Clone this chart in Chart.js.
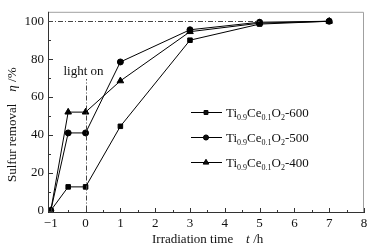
<!DOCTYPE html>
<html><head><meta charset="utf-8">
<script src="https://cdn.jsdelivr.net/npm/chart.js@4/dist/chart.umd.min.js"></script>
<style>html,body{margin:0;padding:0;background:#fff;}#wrap{width:373px;height:251px;}</style>
</head><body><div id="wrap"><canvas id="c" width="373" height="251"></canvas></div>
<script>
const times = [-1, -0.5, 0, 1, 3, 5, 7];
const s600 = [0, 12.5, 12.5, 44.5, 90, 98.5, 100];
const s500 = [0, 41, 41, 78.5, 95.5, 99.5, 100];
const s400 = [0, 52, 52, 68.5, 94.5, 99, 100];
const seriesNames = ['600', '500', '400'];
const xTicks = [-1, 0, 1, 2, 3, 4, 5, 6, 7, 8];
const yTicks = [0, 20, 40, 60, 80, 100];
const FONT = '"Liberation Serif", "Times New Roman", serif';

function pts(v){ return times.map((t,i)=>({x:t,y:v[i]})); }
const styles = ['rect','circle','triangle'];
const radii = [3.2, 3, 3.8];

const overlay = {
  id:'overlay',
  afterDraw(chart){
    const ctx = chart.ctx, xs = chart.scales.x, ys = chart.scales.y, a = chart.chartArea;
    ctx.save();
    // frame
    ctx.strokeStyle = '#a0a0a0'; ctx.lineWidth = 1;
    ctx.beginPath(); ctx.moveTo(a.left, a.top+0.5); ctx.lineTo(a.right-0.5, a.top+0.5); ctx.lineTo(a.right-0.5, a.bottom); ctx.stroke();
    ctx.strokeStyle = '#333';
    ctx.beginPath(); ctx.moveTo(a.left+0.5, a.top); ctx.lineTo(a.left+0.5, a.bottom-0.5); ctx.lineTo(a.right, a.bottom-0.5); ctx.stroke();
    // ticks inward
    ctx.strokeStyle = '#333';
    ctx.beginPath();
    for (let v=-1; v<=8; v+=0.5){
      const px = Math.round(xs.getPixelForValue(v))+0.5;
      const len = Number.isInteger(v) ? 5 : 3;
      ctx.moveTo(px, a.bottom); ctx.lineTo(px, a.bottom-len);
    }
    for (let v=0; v<=100; v+=10){
      const py = Math.round(ys.getPixelForValue(v))+0.5;
      const len = (v%20===0) ? 5 : 3;
      ctx.moveTo(a.left, py); ctx.lineTo(a.left+len, py);
    }
    ctx.stroke();
    // reference lines (dash-dot)
    ctx.setLineDash([5,2,1,2]);
    ctx.strokeStyle = '#444';
    ctx.beginPath();
    const y100 = Math.round(ys.getPixelForValue(100))+0.5;
    ctx.moveTo(a.left, y100); ctx.lineTo(xs.getPixelForValue(5), y100);
    const x0 = Math.round(xs.getPixelForValue(0))+0.5;
    ctx.moveTo(x0, ys.getPixelForValue(0)); ctx.lineTo(x0, ys.getPixelForValue(69.5));
    ctx.stroke();
    ctx.setLineDash([]);
    // light on
    ctx.fillStyle = '#111';
    ctx.font = '13px ' + FONT;
    ctx.textAlign = 'center'; ctx.textBaseline = 'alphabetic';
    ctx.fillText('light on', x0 - 3, ys.getPixelForValue(71.5));
    // axis titles
    ctx.font = '13px ' + FONT;
    ctx.textAlign = 'left';
    ctx.fillText('Irradiation time', 152, 243);
    ctx.font = 'italic 13px ' + FONT;
    ctx.fillText('t', 246, 243);
    ctx.font = '13px ' + FONT;
    ctx.fillText(' /h', 250, 243);
    // y title rotated
    ctx.save();
    ctx.translate(16, 124); ctx.rotate(-Math.PI/2);
    ctx.textAlign = 'left';
    const p1 = 'Sulfur removal', p2 = 'η', p3 = ' /%';
    ctx.font = '13px ' + FONT;
    const w1 = ctx.measureText(p1).width;
    let xs0 = -58;
    ctx.fillText(p1, xs0, 0);
    xs0 += w1 + 12;
    ctx.font = 'italic 13px ' + FONT;
    ctx.fillText(p2, xs0, 0);
    xs0 += ctx.measureText(p2).width;
    ctx.font = '13px ' + FONT;
    ctx.fillText(p3, xs0, 0);
    ctx.restore();
    // legend
    const legY = [112, 137, 162];
    chart.data.datasets.forEach((ds, i) => {
      const y = legY[i] + 0.5;
      ctx.strokeStyle = '#000'; ctx.lineWidth = 1;
      ctx.beginPath(); ctx.moveTo(191, y); ctx.lineTo(222, y); ctx.stroke();
      Chart.helpers.drawPoint(ctx, {pointStyle: styles[i], radius: radii[i]*0.85, borderWidth: 1}, 206, y);
      ctx.fillStyle = '#111';
      let tx = 226;
      const base = y + 4.5;
      const seg = (txt, size, dy) => { ctx.font = size + 'px ' + FONT; ctx.fillText(txt, tx, base + dy); tx += ctx.measureText(txt).width; };
      seg('Ti', 13, 0); seg('0.9', 8, 3); seg('Ce', 13, 0); seg('0.1', 8, 3); seg('O', 13, 0); seg('2', 8, 3); seg('-' + seriesNames[i], 13, 0);
    });
    ctx.restore();
  }
};

const mk = (label, v, i) => ({
  label, data: pts(v), borderColor:'#000', backgroundColor:'#000', borderWidth:1,
  pointStyle: styles[i], pointRadius: radii[i], pointBorderWidth:1, pointBackgroundColor:'#000', pointBorderColor:'#000', tension:0, fill:false
});

new Chart(document.getElementById('c'), {
  type:'line',
  data:{ datasets:[ mk('Ti0.9Ce0.1O2-600', s600, 0), mk('Ti0.9Ce0.1O2-500', s500, 1), mk('Ti0.9Ce0.1O2-400', s400, 2) ] },
  options:{
    responsive:false, animation:false, devicePixelRatio:1,
    layout:{ padding:{ top:6, right:9, left:0, bottom:0 } },
    plugins:{ legend:{display:false}, tooltip:{enabled:false} },
    scales:{
      x:{ type:'linear', min:-1.08, max:8,
        afterBuildTicks(s){ s.ticks = xTicks.map(v=>({value:v})); },
        afterFit(s){ s.height = 38; },
        grid:{ display:false, drawTicks:false }, border:{display:false},
        ticks:{ color:'#111', font:{ family:FONT, size:13 }, padding:3, maxRotation:0, autoSkip:false,
          callback:(v)=> v<0 ? '\u22121' : String(v) } },
      y:{ type:'linear', min:-1.3, max:105,
        afterBuildTicks(s){ s.ticks = yTicks.map(v=>({value:v})); },
        afterFit(s){ s.width = 48; },
        grid:{ display:false, drawTicks:false }, border:{display:false},
        ticks:{ color:'#111', font:{ family:FONT, size:13 }, padding:4, autoSkip:false } }
    }
  },
  plugins:[overlay]
});
</script></body></html>
